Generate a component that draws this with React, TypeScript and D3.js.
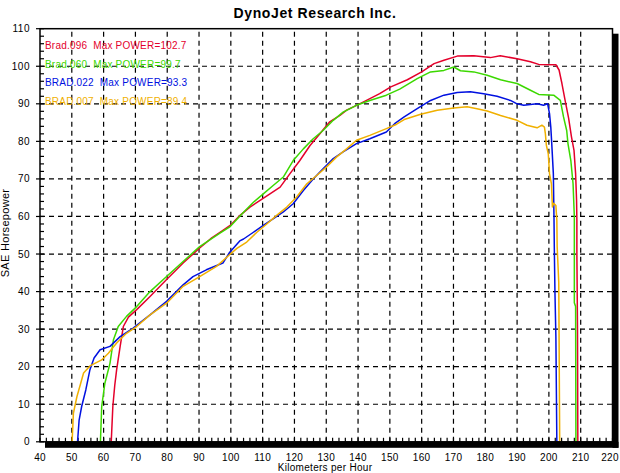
import { useEffect, useRef } from 'react';
import * as d3 from 'd3';

// km/h, SAE hp pairs
const brad096: [number, number][] = [
  [62.4, 0], [62.9, 9.4], [63.5, 15], [64.1, 19.2], [65.2, 25.4], [66.2, 30.7], [67.8, 33.2],
  [70.4, 35.2], [74.6, 38.7], [79.8, 43.2], [85, 47.6], [90.2, 51.6], [94, 54.3], [96.7, 55.8],
  [99.8, 57.6], [102.9, 60.3], [106, 62.5], [109.2, 64.3], [112.3, 66], [115.5, 67.8],
  [118.6, 71.4], [121.7, 74.9], [124.9, 78.9], [128, 82], [131.1, 85.2], [134.3, 86.9],
  [136.4, 88.3], [140.5, 90], [146.8, 92.7], [150.3, 94.5], [155.5, 96.4], [160, 98.5],
  [163.9, 100.7], [167, 101.6], [171.2, 102.7], [176.4, 102.8], [181.6, 102.3], [184.7, 102.8],
  [190, 102], [194.2, 101.2], [196.8, 100.5], [202.2, 100.4], [203.2, 99], [204.1, 95.4],
  [205.1, 90.9], [206.2, 86.2], [207.1, 81.2], [207.9, 77.6], [208.4, 71.4], [208.7, 64.3],
  [208.8, 59], [208.8, 50], [209, 30], [209.1, 0],
];

const brad060: [number, number][] = [
  [59, 0], [59.4, 9.4], [60.4, 15.6], [62, 20.9], [63.1, 27.2], [64.6, 30.7], [67.2, 33.4],
  [70.4, 36], [74.6, 40], [79.8, 44], [85, 48], [90.2, 52], [96.7, 55.6], [99.8, 57.3],
  [104, 61.1], [107.1, 63.8], [110.2, 66], [113.4, 68.3], [116.5, 70.5], [119.6, 74.9],
  [122.8, 78], [125.9, 80.7], [129, 82.9], [132.2, 85.6], [135.3, 87.8], [139.5, 89.6],
  [143.7, 90.9], [148.9, 92.3], [153.1, 93.9], [158.6, 96.7], [162.8, 98.5], [167, 98.9],
  [170.1, 99.8], [172.2, 98.8], [176.4, 98.5], [180.6, 97.6], [184.8, 96.4], [190, 95.4],
  [194.2, 93.6], [196.8, 92.5], [201.5, 92.3], [203.6, 90.9], [204.6, 86.5], [205.6, 82.9],
  [206, 79.4], [206.9, 74.9], [207.6, 68.7], [208, 60], [208, 37], [208.4, 36], [208.5, 0],
];

const brad022: [number, number][] = [
  [51.8, 0], [52.3, 5.8], [53.1, 9.4], [54.4, 13.8], [55.7, 19.2], [57, 22.3], [58.9, 24.5],
  [62, 25.4], [65.2, 28], [69.3, 30.3], [74.6, 33.8], [79.8, 37.4], [85, 41.8], [88.1, 44],
  [92.3, 45.8], [97.5, 47.6], [99.6, 50.4], [102.8, 53.5], [104, 54], [107.1, 55.8],
  [110.2, 57.6], [113.4, 59.4], [116.5, 61.2], [119.6, 63.4], [122.8, 66.9], [125.9, 70],
  [129, 72.7], [132.2, 75.4], [135.3, 77.2], [139.5, 79.4], [143.7, 80.7], [148.9, 82.5],
  [151.5, 84.7], [154.5, 86.5], [158.6, 88.7], [162.8, 90.9], [167, 92.3], [171.2, 93],
  [175.3, 93.2], [179.5, 92.7], [183.7, 92], [187.9, 90.9], [190, 90], [192.1, 89.6],
  [196.3, 90], [198.3, 89.6], [199.6, 90], [200.2, 87.4], [200.6, 83.8], [200.9, 79.4],
  [201.4, 71.4], [201.6, 60], [201.7, 52], [201.9, 40], [202.2, 28], [202.5, 0],
];

const brad007: [number, number][] = [
  [50.1, 0], [50.5, 7.6], [51.6, 12], [52.8, 15.6], [53.7, 18.3], [55.7, 20.2], [59.4, 21.8],
  [61.5, 23.6], [64.1, 26.3], [67.2, 28.9], [70.4, 30.7], [74.6, 33.8], [79.8, 36.9],
  [85, 41.4], [90.2, 44], [95.5, 46.7], [99.6, 49.8], [101.9, 51.5], [105, 53.2],
  [108.2, 55.8], [111.3, 58], [114.4, 60.3], [117.6, 62.5], [120.7, 65.2], [123.9, 68.7],
  [127, 70.9], [130.1, 73.2], [133.2, 75.8], [136.4, 78], [139.5, 80.3], [143.7, 81.6],
  [148.9, 83.4], [152, 84.5], [154.5, 85.8], [159.7, 87.2], [164.9, 88.3], [170.1, 88.9],
  [174.3, 89.2], [177.4, 88.7], [180.6, 88.1], [184.8, 86.9], [190, 85.6], [193.1, 84.3],
  [196.3, 83.6], [197.8, 84.3], [198.6, 83.8], [198.9, 82], [199.2, 79], [199.8, 76.7],
  [200.2, 71.4], [200.8, 68.7], [201.1, 62.5], [201.5, 63.5], [202.2, 62.9], [202.5, 59],
  [202.6, 52], [203.1, 42.5], [203.4, 0],
];

const runNames = ['Brad.096', 'Brad.060', 'BRAD.022', 'BRAD.007'];
const maxPower = [102.7, 99.7, 93.3, 89.4];
const runColors = ['#e4002b', '#3cd800', '#0010e0', '#f0b000'];
const runData = [brad096, brad060, brad022, brad007];

const xTicks = d3.range(40, 221, 10);
const yTicks = d3.range(0, 111, 10);

const FONT = '"Liberation Sans", Arial, sans-serif';

export default function App() {
  const svgRef = useRef<SVGSVGElement>(null);

  useEffect(() => {
    if (!svgRef.current) return;
    const width = 620;
    const height = 473;

    const svg = d3.select(svgRef.current);
    svg.selectAll('*').remove();
    svg.attr('viewBox', `0 0 ${width} ${height}`);

    const x = d3.scaleLinear().domain([40, 220]).range([40, 612.5]);
    const y = d3.scaleLinear().domain([0, 110]).range([441.8, 28.7]);

    svg.append('rect').attr('width', width).attr('height', height).attr('fill', '#fff');

    // drop shadow of the frame
    svg.append('rect')
      .attr('x', x(220)).attr('y', y(110) + 5)
      .attr('width', 6).attr('height', y(0) - y(110) + 1)
      .attr('fill', '#000');
    svg.append('rect')
      .attr('x', x(40) + 5).attr('y', y(0))
      .attr('width', x(220) - x(40) + 1).attr('height', 6)
      .attr('fill', '#000');

    // dashed grid
    const grid = svg.append('g').attr('stroke', '#000').attr('stroke-width', 1.2)
      .attr('stroke-dasharray', '5,4');
    xTicks.filter((v) => v > 40 && v < 220).forEach((v) => {
      grid.append('line')
        .attr('x1', x(v)).attr('x2', x(v))
        .attr('y1', y(0)).attr('y2', y(110));
    });
    yTicks.filter((v) => v > 0 && v < 110).forEach((v) => {
      grid.append('line')
        .attr('x1', x(40)).attr('x2', x(220))
        .attr('y1', y(v)).attr('y2', y(v));
    });

    // minor ticks every 2 units
    const ticks = svg.append('g').attr('stroke', '#000').attr('stroke-width', 1.2);
    d3.range(0, 111, 2).forEach((v) => {
      ticks.append('line')
        .attr('x1', x(40)).attr('x2', x(40) + 4)
        .attr('y1', y(v)).attr('y2', y(v));
    });
    d3.range(40, 221, 2).forEach((v) => {
      ticks.append('line')
        .attr('x1', x(v)).attr('x2', x(v))
        .attr('y1', y(0)).attr('y2', y(0) - 4);
    });
    yTicks.forEach((v) => {
      ticks.append('line')
        .attr('x1', x(40) - 4).attr('x2', x(40))
        .attr('y1', y(v)).attr('y2', y(v));
    });

    // curves
    const line = d3.line<[number, number]>()
      .x((d) => x(d[0]))
      .y((d) => y(d[1]));

    runData.forEach((data, i) => {
      svg.append('path')
        .datum(data)
        .attr('d', line)
        .attr('fill', 'none')
        .attr('stroke', runColors[i])
        .attr('stroke-width', 1.5)
        .attr('stroke-linejoin', 'round');
    });

    // frame
    svg.append('rect')
      .attr('x', x(40)).attr('y', y(110))
      .attr('width', x(220) - x(40)).attr('height', y(0) - y(110))
      .attr('fill', 'none').attr('stroke', '#000').attr('stroke-width', 1.5);

    // tick labels
    yTicks.forEach((v) => {
      svg.append('text')
        .attr('x', 30).attr('y', y(v) + 3.5)
        .attr('text-anchor', 'end')
        .attr('font-family', FONT).attr('font-size', 10)
        .attr('letter-spacing', 0.5)
        .text(v);
    });
    xTicks.forEach((v) => {
      svg.append('text')
        .attr('x', Math.min(x(v), 610)).attr('y', 461)
        .attr('text-anchor', 'middle')
        .attr('font-family', FONT).attr('font-size', 10)
        .attr('letter-spacing', 0.3)
        .text(v);
    });

    // legend
    runNames.forEach((name, i) => {
      svg.append('text')
        .attr('x', 45).attr('y', 49 + i * 18.7)
        .attr('font-family', FONT).attr('font-size', 10)
        .attr('letter-spacing', 0.2)
        .attr('fill', runColors[i])
        .attr('xml:space', 'preserve')
        .style('white-space', 'pre')
        .text(`${name}  Max POWER=${maxPower[i]}`);
    });

    // titles
    svg.append('text')
      .attr('x', 315).attr('y', 18)
      .attr('text-anchor', 'middle')
      .attr('font-family', FONT).attr('font-size', 14).attr('font-weight', 'bold')
      .attr('letter-spacing', 0.6)
      .text('DynoJet Research Inc.');

    svg.append('text')
      .attr('x', 325).attr('y', 471)
      .attr('text-anchor', 'middle')
      .attr('font-family', FONT).attr('font-size', 10)
      .attr('letter-spacing', 0.3)
      .text('Kilometers per Hour');

    svg.append('text')
      .attr('transform', 'translate(9, 233) rotate(-90)')
      .attr('text-anchor', 'middle')
      .attr('font-family', FONT).attr('font-size', 11)
      .attr('letter-spacing', 0.3)
      .text('SAE Horsepower');
  }, []);

  return (
    <svg
      ref={svgRef}
      width={620}
      height={473}
      style={{ position: 'absolute', left: 0, top: 0, display: 'block' }}
    />
  );
}
